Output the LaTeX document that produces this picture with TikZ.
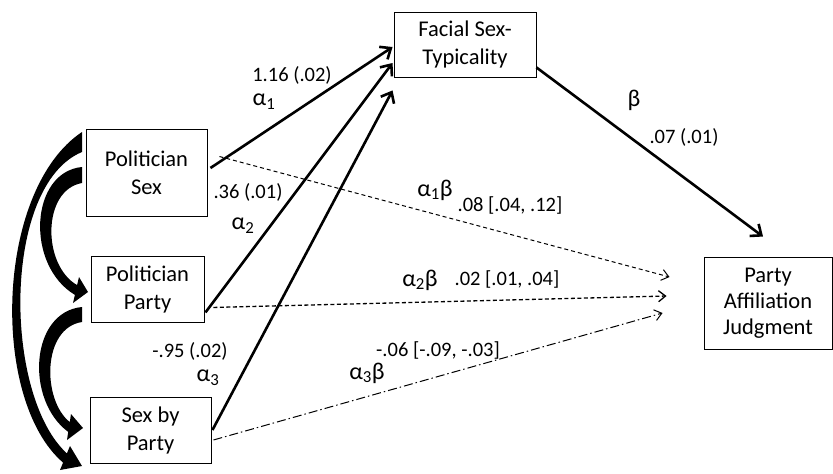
\documentclass[tikz,border=0pt]{standalone}
\usepackage{fontspec}
\setmainfont{Carlito}
\usetikzlibrary{arrows.meta,positioning,calc}
\newcommand{\al}[1]{α\textsubscript{#1}}

\begin{document}
\begin{tikzpicture}[x=1pt,y=-1pt,
  box/.style={draw,line width=0.9pt,align=center,inner sep=0pt,font=\fontsize{22.5}{28}\selectfont},
  lab/.style={inner sep=0pt,font=\fontsize{20.5}{22}\selectfont},
  greek/.style={inner sep=0pt,font=\fontsize{24}{26}\selectfont},
  apath/.style={-{Straight Barb[length=9pt,width=15pt]},line width=2.6pt},
  ind/.style={-{Straight Barb[length=7pt,width=11pt]},line width=1pt}]
\useasboundingbox (0,0) rectangle (833,474);
% boxes
\node[box,minimum width=121pt,minimum height=87pt] (psex) at (146.5,172.5) {Politician\\Sex};
\node[box,minimum width=113pt,minimum height=66pt] (pparty) at (147.5,289) {Politician\\Party};
\node[box,minimum width=121pt,minimum height=66pt] (sexby) at (150.5,430) {Sex by\\Party};
\node[box,minimum width=142pt,minimum height=65pt] (facial) at (465,44.5) {Facial Sex-\\Typicality};
\node[box,minimum width=128pt,minimum height=92pt,font=\fontsize{22.5}{26}\selectfont] (judg) at (768,303) {Party\\Affiliation\\Judgment};
% a paths
\draw[apath] ($(psex.east)+(3,-4.5)$) -- ($(facial.west)+(-1,2.5)$);
\draw[apath] ($(pparty.south east)+(1,-10)$) -- ($(facial.west)+(-1,18.5)$);
\draw[apath] ($(sexby.east)+(1,0)$) -- ($(facial.south west)+(-1,13)$);
\draw[apath] ($(facial.south east)+(0,-10)$) -- ($(judg.north)+(-5,-20)$);
% indirect effects
\draw[ind,dash pattern=on 4pt off 3pt] ($(psex.east)+(12,-16)$) -- ($(judg.west)+(-34,-26)$);
\draw[ind,line width=1.3pt,dash pattern=on 4pt off 2.5pt] ($(pparty.south east)+(9,-15)$) -- ($(judg.west)+(-37,-7)$);
\draw[ind,dash pattern=on 9pt off 3pt on 1.5pt off 3pt] ($(sexby.east)+(2,10)$) -- ($(judg.west)+(-41,10)$);
% covariances
\fill (82,132) .. controls (-5,190) and (-10,400) .. (63.1,462.6) -- (60,470) -- (82,466) -- (70,446) -- (66.9,453.4) .. controls (3,395) and (2,185) .. (82,152) -- cycle;
\fill (82,167) .. controls (30,172) and (25,265) .. (74.9,294.9) -- (73,303) -- (88,292) -- (79,277) -- (77.1,285.1) .. controls (42,265) and (42,190) .. (82,183) -- cycle;
\fill (82,307) .. controls (30,312) and (25,400) .. (68.2,431.9) -- (67,440) -- (83,428) -- (71,414) -- (69.8,422.1) .. controls (42,400) and (42,328) .. (82,322) -- cycle;
% labels
\node[lab] (v1) at (292,75) {1.16 (.02)};
\node[greek] (g1) at (264,102) {\al1};
\node[lab] (v2) at (248,192) {.36 (.01)};
\node[greek] (g2) at (243,226) {\al2};
\node[lab] (v3) at (190,351) {-.95 (.02)};
\node[greek] (g3) at (208,378) {\al3};
\node[greek] (gb) at (634,100) {β};
\node[lab] (vb) at (684,137) {.07 (.01)};
\node[greek] (g1b) at (435,190) {\al1β};
\node[lab] (v1b) at (510,205) {.08 [.04, .12]};
\node[greek] (g2b) at (420,280) {\al2β};
\node[lab] (v2b) at (507,279) {.02 [.01, .04]};
\node[lab] (v3b) at (438,350) {-.06 [-.09, -.03]};
\node[greek] (g3b) at (367,373) {\al3β};
\end{tikzpicture}
\end{document}
